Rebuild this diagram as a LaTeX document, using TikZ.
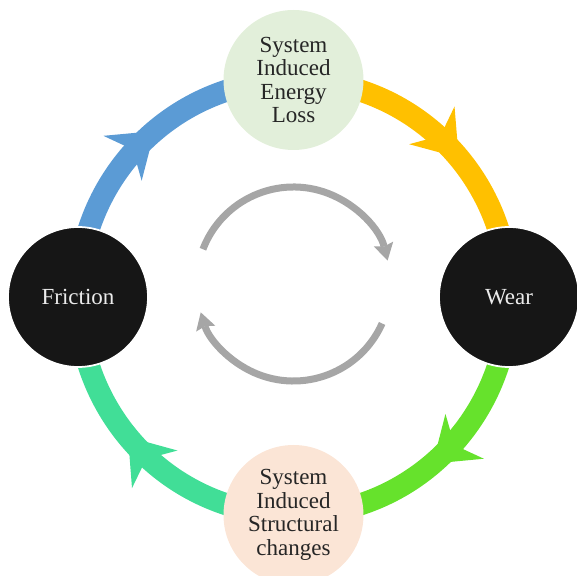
\documentclass[tikz,border=0pt]{standalone}
\usepackage{fontspec}
\usetikzlibrary{arrows.meta,decorations.markings,backgrounds}

\newfontfamily\stagefont{Liberation Serif}

\definecolor{ringblue}{HTML}{5B9BD5}
\definecolor{ringgold}{HTML}{FFC000}
\definecolor{ringlime}{HTML}{66E22C}
\definecolor{ringmint}{HTML}{41DE97}
\definecolor{lossfill}{HTML}{E2EFDA}
\definecolor{changefill}{HTML}{FBE5D6}
\definecolor{darkfill}{HTML}{161616}
\definecolor{loopgray}{HTML}{A6A6A6}

\tikzset{
  stage/.style={circle, minimum size=2.8cm, inner sep=0pt, align=center,
    font=\stagefont\fontsize{13.1}{13.4}\selectfont, text=black!85},
  darkstage/.style={stage, fill=darkfill, draw=white, line width=1pt, text=white!92!black},
  ring/.style={line width=0.44cm, postaction={decorate},
    decoration={markings, mark=at position 0.555 with
      {\arrow{Stealth[length=0.84cm, width=1.18cm, inset=0.27cm, line width=0pt]}}}},
  loop/.style={loopgray, line width=0.14cm,
    -{Stealth[length=0.34cm, width=0.4cm, inset=0.05cm, line width=0pt]}}
}

\begin{document}
\begin{tikzpicture}
\useasboundingbox (-5.87,-5.58) rectangle (5.67,5.94);

% the four stages around the cycle
\node[stage, fill=lossfill] (loss) at (0,4.34) {System\\Induced\\Energy\\Loss};
\node[darkstage] (wear) at (4.31,0) {Wear};
\node[stage, fill=changefill] (change) at (0,-4.36) {System\\Induced\\Structural\\changes};
\node[darkstage] (friction) at (-4.31,0) {Friction};

% coloured ring segments, clockwise, behind the stages
\begin{scope}[on background layer]
  \draw[ring, ringblue] (friction.center) to[out=90, in=180] (loss.center);
  \draw[ring, ringgold] (loss.center) to[out=0, in=90] (wear.center);
  \draw[ring, ringlime] (wear.center) to[out=-90, in=0] (change.center);
  \draw[ring, ringmint] (change.center) to[out=180, in=-90] (friction.center);
\end{scope}

% grey loop in the middle
\coordinate (hub) at (0,0.26);
\draw[loop] ([shift={(hub)}]159:1.94) arc[start angle=159, end angle=14, radius=1.94];
\draw[loop] ([shift={(hub)}]-24:1.94) arc[start angle=-24, end angle=-163, radius=1.94];
\end{tikzpicture}
\end{document}
